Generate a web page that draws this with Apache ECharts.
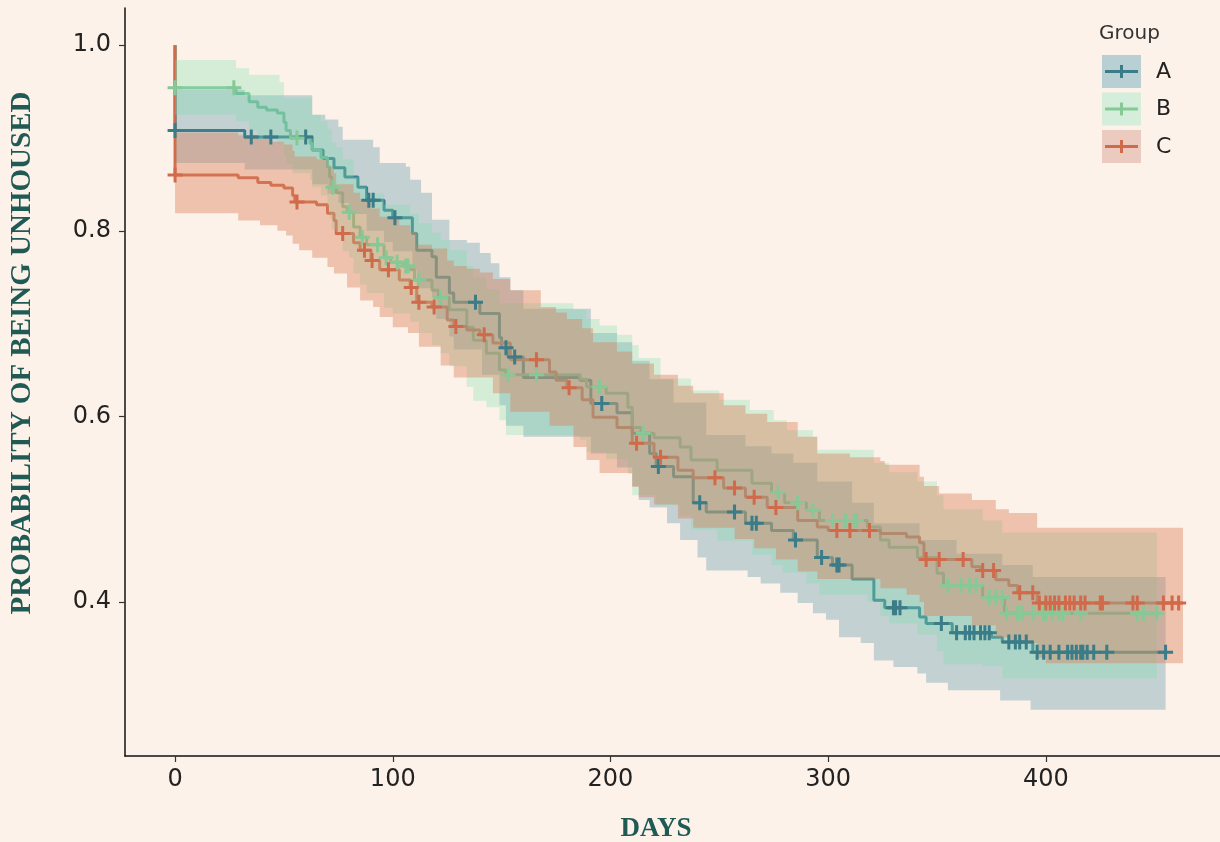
<!DOCTYPE html>
<html>
<head>
<meta charset="utf-8">
<script src="https://cdn.jsdelivr.net/npm/echarts@6/dist/echarts.min.js"></script>
<style>
html,body{margin:0;padding:0;background:#fdf2e9;}
#chart{width:1220px;height:842px;}
</style>
</head>
<body>
<div id="chart"></div>
<script>
// ---------------- DATA ----------------
const groups = ['A', 'B', 'C'];
const xTicks = [0, 100, 200, 300, 400];
const yTicks = [0.4, 0.6, 0.8, 1.0];

// Kaplan-Meier steps [day, survival after step]
const curveA = [[0,0.908],[32,0.901],[63,0.887],[68,0.878],[73,0.868],[78,0.858],[84,0.847],[88,0.833],[96,0.822],[100,0.814],[109,0.797],[111,0.779],[118,0.772],[120,0.750],[126,0.733],[128,0.723],[140,0.711],[149,0.685],[150,0.674],[153,0.664],[160,0.642],[186,0.639],[191,0.614],[203,0.604],[210,0.582],[218,0.560],[221,0.546],[229,0.535],[238,0.507],[244,0.497],[262,0.485],[274,0.477],[284,0.467],[295,0.448],[302,0.440],[311,0.425],[321,0.402],[326,0.394],[342,0.384],[345,0.377],[357,0.367],[375,0.362],[380,0.357],[394,0.346]];
const curveB = [[0,0.954],[28,0.948],[34,0.939],[38,0.933],[42,0.930],[47,0.927],[50,0.917],[51,0.908],[53,0.900],[62,0.894],[63,0.887],[67,0.879],[70,0.869],[71,0.858],[72,0.847],[74,0.841],[77,0.826],[79,0.820],[82,0.804],[85,0.793],[88,0.785],[96,0.771],[99,0.766],[105,0.762],[108,0.758],[110,0.747],[118,0.736],[121,0.728],[126,0.715],[134,0.696],[137,0.682],[143,0.668],[149,0.650],[152,0.645],[186,0.640],[189,0.632],[198,0.625],[208,0.610],[210,0.588],[214,0.582],[220,0.577],[232,0.567],[237,0.553],[249,0.542],[265,0.528],[274,0.518],[280,0.507],[290,0.499],[296,0.488],[318,0.481],[324,0.467],[328,0.459],[341,0.448],[350,0.431],[353,0.418],[371,0.405],[381,0.388]];
const curveC = [[0,0.860],[29,0.857],[38,0.852],[44,0.849],[50,0.846],[54,0.838],[55,0.831],[65,0.828],[70,0.819],[73,0.811],[74,0.797],[82,0.787],[85,0.779],[90,0.768],[94,0.758],[103,0.747],[108,0.739],[111,0.723],[118,0.718],[125,0.704],[128,0.697],[134,0.693],[140,0.688],[146,0.679],[154,0.661],[172,0.648],[175,0.639],[180,0.631],[187,0.618],[192,0.599],[203,0.588],[210,0.571],[220,0.556],[231,0.542],[238,0.534],[252,0.523],[262,0.513],[272,0.502],[286,0.488],[295,0.481],[300,0.477],[324,0.474],[336,0.470],[342,0.464],[344,0.446],[366,0.438],[370,0.434],[377,0.424],[383,0.418],[387,0.410],[396,0.399]];
const endDays = [455, 451, 463];

// confidence band edges [day, value after step]
const upperA = [[0,0.952],[32,0.946],[63,0.925],[69,0.920],[75,0.912],[77,0.898],[91,0.890],[94,0.873],[106,0.869],[108,0.855],[113,0.841],[118,0.812],[126,0.790],[134,0.787],[140,0.776],[145,0.765],[149,0.750],[154,0.736],[160,0.716],[191,0.690],[203,0.680],[210,0.660],[218,0.640],[229,0.615],[244,0.580],[262,0.568],[274,0.560],[284,0.550],[295,0.530],[311,0.507],[321,0.485],[342,0.467],[359,0.452],[380,0.440],[394,0.427]];
const lowerA = [[0,0.873],[32,0.866],[63,0.850],[70,0.840],[75,0.830],[80,0.818],[88,0.800],[96,0.788],[100,0.778],[109,0.758],[111,0.738],[118,0.728],[120,0.705],[126,0.686],[128,0.672],[141,0.645],[149,0.612],[152,0.590],[160,0.578],[191,0.560],[203,0.545],[210,0.525],[213,0.510],[218,0.502],[226,0.485],[232,0.467],[240,0.448],[244,0.434],[263,0.427],[269,0.420],[278,0.410],[286,0.399],[293,0.388],[299,0.381],[305,0.362],[315,0.356],[321,0.337],[330,0.330],[341,0.323],[345,0.313],[355,0.305],[379,0.294],[393,0.284]];
const upperB = [[0,0.984],[28,0.975],[34,0.968],[48,0.960],[50,0.943],[63,0.925],[67,0.918],[70,0.910],[72,0.895],[74,0.890],[77,0.877],[82,0.858],[85,0.848],[88,0.840],[96,0.828],[108,0.818],[112,0.808],[118,0.798],[122,0.790],[126,0.779],[134,0.762],[137,0.750],[143,0.737],[149,0.722],[183,0.715],[189,0.705],[195,0.698],[203,0.688],[210,0.677],[213,0.663],[223,0.641],[237,0.628],[250,0.618],[264,0.607],[275,0.596],[281,0.585],[293,0.578],[295,0.564],[321,0.550],[328,0.540],[341,0.530],[350,0.515],[353,0.500],[371,0.488],[380,0.475]];
const lowerB = [[0,0.925],[28,0.918],[34,0.908],[38,0.900],[47,0.894],[50,0.882],[51,0.872],[54,0.862],[62,0.855],[63,0.847],[67,0.838],[70,0.826],[71,0.814],[72,0.802],[74,0.795],[77,0.778],[80,0.771],[82,0.754],[85,0.742],[88,0.733],[96,0.717],[100,0.711],[108,0.702],[112,0.690],[118,0.677],[122,0.668],[126,0.654],[134,0.632],[137,0.617],[143,0.610],[149,0.596],[152,0.580],[186,0.575],[189,0.562],[198,0.554],[208,0.538],[210,0.515],[221,0.504],[232,0.493],[237,0.478],[249,0.466],[265,0.451],[274,0.440],[279,0.432],[290,0.420],[296,0.408],[318,0.400],[324,0.385],[328,0.377],[341,0.365],[350,0.347],[353,0.333],[371,0.331],[380,0.318]];
const upperC = [[0,0.906],[29,0.903],[38,0.899],[44,0.896],[50,0.893],[54,0.886],[55,0.880],[65,0.877],[70,0.869],[73,0.862],[74,0.850],[82,0.841],[85,0.834],[90,0.824],[94,0.815],[103,0.806],[108,0.799],[111,0.785],[118,0.781],[125,0.768],[128,0.762],[134,0.759],[140,0.755],[146,0.748],[154,0.736],[168,0.718],[175,0.712],[180,0.705],[187,0.695],[192,0.680],[203,0.670],[210,0.657],[220,0.645],[231,0.633],[238,0.625],[252,0.612],[262,0.603],[272,0.594],[286,0.578],[295,0.560],[310,0.556],[324,0.552],[326,0.548],[342,0.535],[344,0.525],[351,0.517],[366,0.510],[377,0.500],[383,0.496],[396,0.480]];
const lowerC = [[0,0.819],[29,0.811],[39,0.806],[47,0.800],[51,0.795],[54,0.786],[57,0.779],[63,0.771],[70,0.761],[73,0.754],[79,0.739],[85,0.725],[91,0.718],[94,0.707],[100,0.696],[107,0.690],[112,0.675],[122,0.655],[128,0.642],[146,0.625],[154,0.605],[172,0.590],[183,0.567],[189,0.553],[195,0.539],[210,0.524],[213,0.513],[220,0.505],[231,0.490],[238,0.480],[257,0.468],[266,0.458],[276,0.446],[286,0.433],[295,0.425],[324,0.415],[336,0.408],[342,0.400],[344,0.385],[366,0.375],[377,0.362],[383,0.356],[396,0.340],[400,0.334]];

// censoring times (days)
const censorA = [0,35,44,60,89,91,101,138,152,156,196,222,241,257,265,267,285,297,304,305,330,331,333,352,359,363,365,367,370,372,374,383,386,388,391,396,399,402,406,410,412,414,416,417,419,422,428,455];
const censorB = [0,27,56,72.5,80,86,93,97,102,106,107,112,122,153,166,195,215,277,286,293,302,308,312,313,355,361,365,368,374,377,380,382,387,389,394,399,400,403,406,408,416,442,445,451];
const censorC = [0,56,77,87,90.5,98,108.5,112,119,129,142,166,181,212,223,248,257,266,276,304,310,319,345,351,362,371,376,388,394,397,400,402,404,406,409,411,413,416,418,425,426,440,442,454,458,461];

// ---------------- STYLE ----------------
const lineColors = ['#3a7c87', '#86c996', '#d16a4b'];
const bandColors = ['#3f86a0', '#7adfae', '#d8805a'];
const bandOpacity = [0.3, 0.3, 0.42];
const legendFills = ['#b8cfd3', '#d5eedb', '#ebcbbf'];

// ---------------- BUILD ----------------
const curves = [curveA, curveB, curveC];
const uppers = [upperA, upperB, upperC];
const lowers = [lowerA, lowerB, lowerC];
const censors = [censorA, censorB, censorC];

function stepVertices(steps, end) {
  const pts = [];
  steps.forEach((p, i) => {
    if (i > 0) pts.push([p[0], steps[i - 1][1]]);
    pts.push([p[0], p[1]]);
  });
  pts.push([end, steps[steps.length - 1][1]]);
  return pts;
}
function valueAt(steps, t) {
  let v = steps[0][1];
  for (const p of steps) if (p[0] <= t) v = p[1];
  return v;
}
const plusPath = 'path://M-1,-0.2L1,-0.2L1,0.2L-1,0.2Z M-0.2,-1L0.2,-1L0.2,1L-0.2,1Z';

const series = [];
groups.forEach((g, i) => {
  series.push({
    type: 'line', name: g, z: 2, silent: true,
    data: [[0, 1]].concat(stepVertices(curves[i], endDays[i])),
    showSymbol: false, symbol: 'none',
    lineStyle: { color: lineColors[i], width: 3 },
    animation: false
  });
});
groups.forEach((g, i) => {
  const up = stepVertices(uppers[i], endDays[i]);
  const lo = stepVertices(lowers[i], endDays[i]).reverse();
  const poly = up.concat(lo);
  series.push({
    type: 'custom', name: g + ' band', z: 3, silent: true,
    data: [[0, 1]],
    encode: { x: 0, y: 1 },
    renderItem: function (params, api) {
      return {
        type: 'polygon',
        shape: { points: poly.map(p => api.coord(p)) },
        style: { fill: bandColors[i], opacity: bandOpacity[i] }
      };
    },
    animation: false
  });
});
groups.forEach((g, i) => {
  series.push({
    type: 'scatter', name: g + ' censor', z: 4, silent: true,
    data: censors[i].map(t => [t, valueAt(curves[i], t)]),
    symbol: plusPath, symbolSize: 15,
    itemStyle: { color: lineColors[i], opacity: 1 },
    animation: false
  });
});

// legend and axis titles drawn as graphic
const graphic = [
  { type: 'text', x: 1099, y: 34, style: { text: 'Group', font: '20px "DejaVu Sans"', fill: '#333', verticalAlign: 'middle' } },
  { type: 'text', x: 23, y: 353, rotation: Math.PI / 2,
    style: { text: 'PROBABILITY OF BEING UNHOUSED', font: 'bold 29px "Liberation Serif"', fill: '#1f5a55', align: 'center', verticalAlign: 'middle' } },
  { type: 'text', x: 656, y: 829,
    style: { text: 'DAYS', font: 'bold 27px "Liberation Serif"', fill: '#1f5a55', align: 'center', verticalAlign: 'middle' } }
];
groups.forEach((g, i) => {
  const y0 = 55 + i * 37.5;
  graphic.push({ type: 'rect', shape: { x: 1102, y: y0, width: 39, height: 33 }, style: { fill: legendFills[i] } });
  graphic.push({ type: 'line', shape: { x1: 1105, y1: y0 + 16.5, x2: 1138, y2: y0 + 16.5 }, style: { stroke: lineColors[i], lineWidth: 3 } });
  graphic.push({ type: 'line', shape: { x1: 1121.5, y1: y0 + 10, x2: 1121.5, y2: y0 + 23 }, style: { stroke: lineColors[i], lineWidth: 3 } });
  graphic.push({ type: 'text', x: 1156, y: y0 + 17, style: { text: g, font: '22px "DejaVu Sans"', fill: '#222', verticalAlign: 'middle' } });
});

const chart = echarts.init(document.getElementById('chart'), null, { renderer: 'canvas' });
chart.setOption({
  backgroundColor: '#fdf2e9',
  animation: false,
  grid: { left: 125, right: 0, top: 8, bottom: 86, containLabel: false },
  xAxis: {
    type: 'value', min: -23, max: 480,
    axisLine: { show: true, onZero: false, lineStyle: { color: '#111', width: 1.5 } },
    axisTick: { show: true, length: 6, customValues: xTicks, lineStyle: { color: '#333', width: 1.2 } },
    axisLabel: { customValues: xTicks, fontSize: 24, color: '#222', margin: 12, fontFamily: 'DejaVu Sans' },
    splitLine: { show: false }
  },
  yAxis: {
    type: 'value', min: 0.2342, max: 1.040,
    axisLine: { show: true, onZero: false, lineStyle: { color: '#111', width: 1.5 } },
    axisTick: { show: true, length: 6, customValues: yTicks, lineStyle: { color: '#333', width: 1.2 } },
    axisLabel: { customValues: yTicks, fontSize: 24, color: '#222', margin: 14, fontFamily: 'DejaVu Sans',
      formatter: v => v.toFixed(1) },
    splitLine: { show: false }
  },
  graphic: graphic,
  series: series
});
</script>
</body>
</html>
